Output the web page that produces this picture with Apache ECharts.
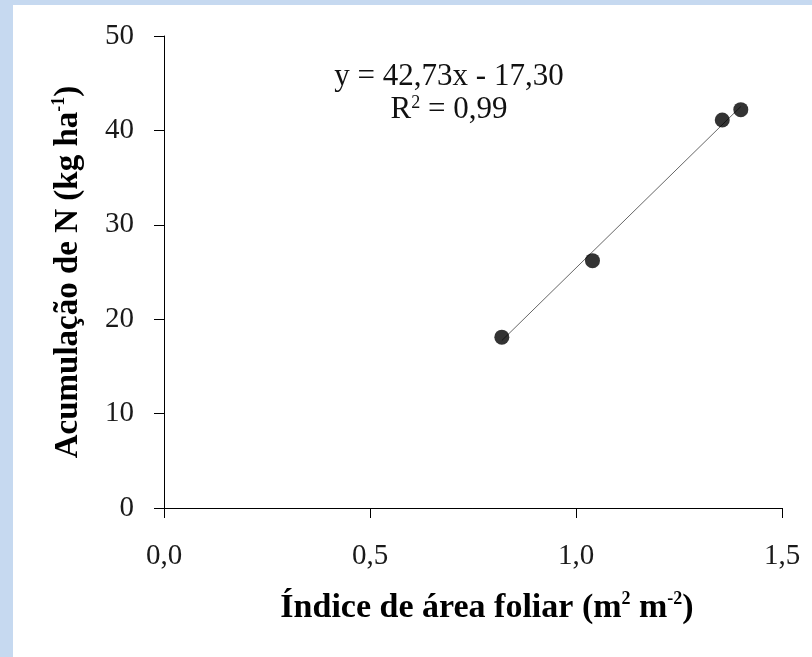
<!DOCTYPE html>
<html>
<head>
<meta charset="utf-8">
<script src="https://cdn.jsdelivr.net/npm/echarts@6/dist/echarts.min.js"></script>
<style>
  html, body { margin: 0; padding: 0; background: #c6d9f0; }
  #sheet { position: absolute; left: 13px; top: 5px; width: 799px; height: 652px; background: #ffffff; }
  #chart { position: absolute; left: 0; top: 0; width: 812px; height: 657px; }
</style>
</head>
<body>
<div id="sheet"></div>
<div id="chart"></div>
<script>
// Leaf area index (m² m⁻²) vs. nitrogen accumulation (kg ha⁻¹)
const leafAreaIndex = [0.82, 1.04, 1.355, 1.40];
const nitrogenAccum = [18.1, 26.2, 41.1, 42.2];

// Fitted linear regression: y = slope * x + intercept
const slope = 42.73;
const intercept = -17.30;
const rSquared = 0.99;

const xTicks = [0, 0.5, 1.0, 1.5];
const yTicks = [0, 10, 20, 30, 40, 50];

const fmt = (v, d) => v.toFixed(d).replace('.', ',');

const xMin = Math.min(...leafAreaIndex);
const xMax = Math.max(...leafAreaIndex);
const fitLine = [xMin, xMax].map(x => [x, slope * x + intercept]);

const serif = 'Liberation Serif, Times New Roman, serif';

const chart = echarts.init(document.getElementById('chart'), null, { renderer: 'canvas' });

chart.setOption({
  backgroundColor: 'transparent',
  animation: false,
  grid: { left: 164, right: 30, top: 36, bottom: 149 },
  xAxis: {
    type: 'value',
    min: xTicks[0],
    max: xTicks[xTicks.length - 1],
    interval: 0.5,
    splitLine: { show: false },
    axisLine: { show: true, lineStyle: { color: '#000', width: 1 } },
    axisTick: { show: true, inside: false, length: 10, lineStyle: { color: '#000', width: 1 } },
    axisLabel: {
      margin: 34,
      fontFamily: serif,
      fontSize: 29,
      color: '#1a1a1a',
      formatter: v => fmt(v, 1)
    },
    name: 'Índice de área foliar (m{sup|2} m{sup|-2})',
    nameLocation: 'middle',
    nameGap: 82,
    nameTextStyle: {
      fontFamily: serif,
      fontWeight: 'bold',
      fontSize: 34,
      color: '#000',
      lineHeight: 36,
      padding: [0, 0, 0, 28],
      rich: {
        sup: { fontFamily: serif, fontWeight: 'bold', fontSize: 18, color: '#000', lineHeight: 16, verticalAlign: 'top' }
      }
    }
  },
  yAxis: {
    type: 'value',
    min: yTicks[0],
    max: yTicks[yTicks.length - 1],
    interval: 10,
    splitLine: { show: false },
    axisLine: { show: true, lineStyle: { color: '#000', width: 1 } },
    axisTick: { show: true, inside: false, length: 10, lineStyle: { color: '#000', width: 1 } },
    axisLabel: {
      margin: 30,
      fontFamily: serif,
      fontSize: 29,
      color: '#1a1a1a'
    },
    name: 'Acumulação de N (kg ha{sup|-1})',
    nameLocation: 'middle',
    nameGap: 78,
    nameTextStyle: {
      fontFamily: serif,
      fontWeight: 'bold',
      fontSize: 33,
      color: '#000',
      lineHeight: 36,
      rich: {
        sup: { fontFamily: serif, fontWeight: 'bold', fontSize: 18, color: '#000', lineHeight: 16, verticalAlign: 'top' }
      }
    }
  },
  series: [
    {
      type: 'line',
      data: fitLine,
      symbol: 'none',
      lineStyle: { color: '#666', width: 1 },
      z: 2
    },
    {
      type: 'scatter',
      data: leafAreaIndex.map((x, i) => [x, nitrogenAccum[i]]),
      symbol: 'circle',
      symbolSize: 15,
      itemStyle: { color: '#000' },
      z: 3
    }
  ],
  graphic: [
    {
      type: 'text',
      x: 449,
      y: 77,
      style: {
        text: 'y = ' + fmt(slope, 2) + 'x - ' + fmt(-intercept, 2),
        fontFamily: serif,
        fontSize: 31,
        fill: '#111',
        align: 'center',
        verticalAlign: 'middle'
      }
    },
    {
      type: 'text',
      x: 449,
      y: 110,
      style: {
        text: 'R{s|2} = ' + fmt(rSquared, 2),
        fontFamily: serif,
        fontSize: 31,
        fill: '#111',
        align: 'center',
        verticalAlign: 'middle',
        rich: {
          s: { fontFamily: serif, fontSize: 18, fill: '#111', lineHeight: 14, verticalAlign: 'top' }
        }
      }
    }
  ]
});
</script>
</body>
</html>
